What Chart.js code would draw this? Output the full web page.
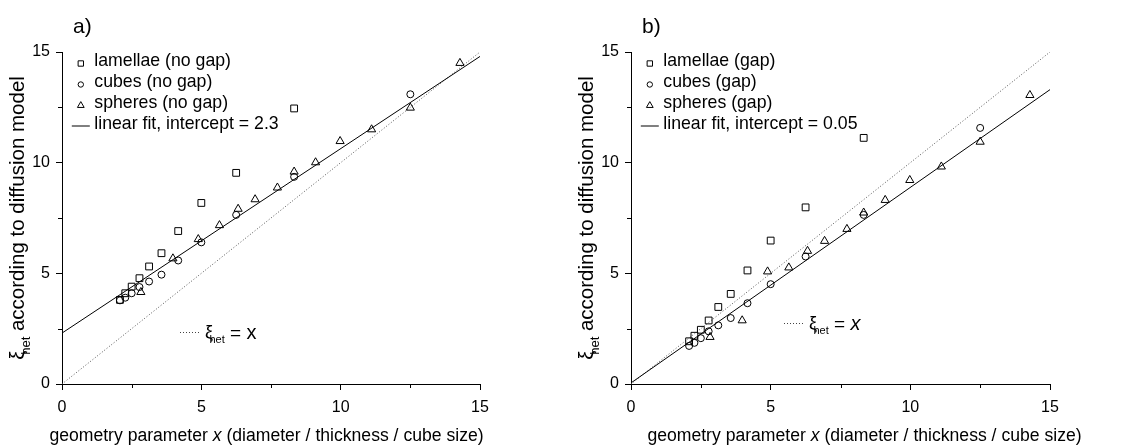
<!DOCTYPE html>
<html>
<head>
<meta charset="utf-8">
<script src="https://cdn.jsdelivr.net/npm/chart.js@4.4.1/dist/chart.umd.min.js"></script>
<style>
  html, body { margin: 0; padding: 0; background: #fff; }
  #wrap { position: relative; width: 1138px; height: 448px; overflow: hidden; }
  .panel { position: absolute; top: 0; width: 569px; height: 448px; }
</style>
</head>
<body>
<div id="wrap">
  <div class="panel" style="left:0"><canvas id="chartA" width="569" height="448"></canvas></div>
  <div class="panel" style="left:569px"><canvas id="chartB" width="569" height="448"></canvas></div>
</div>
<script>
// geometry parameter x of each sample family
const xLamellae = [2.08, 2.27, 2.5, 2.78, 3.125, 3.57, 4.17, 5.0, 6.25, 8.33];
const xCubes    = [2.08, 2.27, 2.5, 2.78, 3.125, 3.57, 4.17, 5.0, 6.25, 8.33, 12.5];
const xSpheres  = [2.83, 3.98, 4.89, 5.65, 6.32, 6.93, 7.73, 8.33, 9.10, 9.98, 11.11, 12.5, 14.28];

// xi_het from the diffusion model, panel a (no gap)
const lamellaeNoGap = [3.80, 4.10, 4.40, 4.78, 5.31, 5.91, 6.91, 8.18, 9.54, 12.45];
const cubesNoGap    = [3.78, 3.90, 4.10, 4.38, 4.63, 4.94, 5.58, 6.40, 7.64, 9.36, 13.09];
const spheresNoGap  = [4.15, 5.67, 6.54, 7.17, 7.91, 8.34, 8.87, 9.59, 10.01, 10.97, 11.50, 12.48, 14.50];

// xi_het from the diffusion model, panel b (gap)
const lamellaeGap = [1.93, 2.18, 2.45, 2.87, 3.48, 4.07, 5.13, 6.48, 7.98, 11.12];
const cubesGap    = [1.72, 1.86, 2.07, 2.38, 2.65, 2.98, 3.65, 4.51, 5.76, 7.64, 11.57];
const spheresGap  = [2.12, 2.87, 5.08, 5.26, 6.01, 6.46, 7.00, 7.74, 8.31, 9.21, 9.82, 10.94, 13.05];

// linear fits (end points at x = 0 and x = 15) and the xi_het = x reference line
const fitX        = [0, 15];
const fitNoGapY   = [2.3, 14.8];
const fitGapY     = [0.05, 13.3];
const identityX   = [0, 15];
const identityY   = [0, 15];

// axis ticks (every 2.5, labelled every 5)
const tickStep  = 2.5;
const labelStep = 5;
const axisMin = 0, axisMax = 15;

const FONT = 'Arial, "Liberation Sans", Helvetica, sans-serif';

function pts(xs, ys) { return xs.map((x, i) => ({ x: x, y: ys[i] })); }

// draws "ξ" with a "het" subscript; returns the x where the next text starts
function drawXiHet(ctx, x, y, size) {
  ctx.font = size + 'px ' + FONT;
  ctx.fillText('\u03BE', x, y);
  const w = ctx.measureText('\u03BE').width;
  const sub = Math.round(size * 0.62);
  ctx.font = sub + 'px ' + FONT;
  ctx.fillText('het', x + w * 0.55, y + size * 0.28);
  return x + w * 0.55 + ctx.measureText('het').width;
}

const decorations = {
  id: 'decorations',
  afterDraw(chart, args, o) {
    const ctx = chart.ctx;
    const a = chart.chartArea;
    const xs = chart.scales.x, ys = chart.scales.y;
    ctx.save();
    ctx.fillStyle = '#000';
    ctx.strokeStyle = '#000';
    ctx.lineWidth = 1;

    // minor ticks (shorter than the labelled ones)
    xs.ticks.forEach(t => {
      if (t.value % labelStep !== 0) {
        const px = Math.round(xs.getPixelForValue(t.value)) + 0.5;
        ctx.beginPath(); ctx.moveTo(px, a.bottom); ctx.lineTo(px, a.bottom + 4); ctx.stroke();
      }
    });
    ys.ticks.forEach(t => {
      if (t.value % labelStep !== 0) {
        const py = Math.round(ys.getPixelForValue(t.value)) + 0.5;
        ctx.beginPath(); ctx.moveTo(a.left, py); ctx.lineTo(a.left - 4, py); ctx.stroke();
      }
    });

    // panel letter
    ctx.textBaseline = 'alphabetic';
    ctx.textAlign = 'left';
    ctx.font = '21px ' + FONT;
    ctx.fillText(o.panel, a.left + 11, 33);

    // legend
    const lx = a.left + 18.8, tx = a.left + 32.3;
    ctx.textBaseline = 'middle';
    o.legend.forEach((item, i) => {
      const y = a.top + 9.5 + 21 * i;
      const ds = chart.data.datasets[item.dataset];
      if (item.line) {
        ctx.beginPath();
        ctx.lineWidth = 1;
        ctx.moveTo(lx - 9, y + 1.5); ctx.lineTo(lx + 9, y + 1.5); ctx.stroke();
      } else {
        ctx.save();
        ctx.fillStyle = 'rgba(0,0,0,0)';
        Chart.helpers.drawPoint(ctx, {
          pointStyle: ds.pointStyle, radius: item.r, rotation: 0, borderWidth: 1
        }, lx, y + 2);
        ctx.restore();
      }
      ctx.font = '17.7px ' + FONT;
      ctx.fillStyle = '#000';
      ctx.fillText(ds.label, tx, y);
    });

    // annotation for the dotted line
    ctx.textBaseline = 'alphabetic';
    const ax = a.left + o.noteDx, ay = a.top + o.noteDy;
    ctx.save();
    ctx.strokeStyle = '#444';
    ctx.setLineDash([1, 2]);
    ctx.beginPath(); ctx.moveTo(ax, ay + 0.5); ctx.lineTo(ax + 21, ay + 0.5); ctx.stroke();
    ctx.restore();
    let nx = drawXiHet(ctx, ax + 25, ay + 6, 18);
    ctx.font = '19px ' + FONT;
    ctx.fillText(' = ', nx, ay + 7);
    nx += ctx.measureText(' = ').width;
    ctx.font = (o.noteItalic ? 'italic ' : '') + '20px ' + FONT;
    ctx.fillText('x', nx, ay + 7);

    // x axis title with italic x
    const tf = '17.6px ';
    const parts = [['geometry parameter ', false], ['x', true], [' (diameter / thickness / cube size)', false]];
    let total = 0;
    parts.forEach(p => { ctx.font = (p[1] ? 'italic ' : '') + tf + FONT; total += ctx.measureText(p[0]).width; });
    let px = (a.left + a.right) / 2 + o.titleShift - total / 2;
    parts.forEach(p => {
      ctx.font = (p[1] ? 'italic ' : '') + tf + FONT;
      ctx.fillText(p[0], px, 441);
      px += ctx.measureText(p[0]).width;
    });

    // y axis title, rotated
    ctx.save();
    const ysz = 20.5;
    const cy = (a.top + a.bottom) / 2;
    ctx.translate(a.left - 38, cy);
    ctx.rotate(-Math.PI / 2);
    ctx.font = ysz + 'px ' + FONT;
    const rest = ' according to diffusion model';
    const wRest = ctx.measureText(rest).width;
    const wXi = ctx.measureText('\u03BE').width * 0.55;
    ctx.font = Math.round(ysz * 0.62) + 'px ' + FONT;
    const wSub = ctx.measureText('het').width;
    const wAll = wXi + wSub + wRest;
    const sx = -wAll / 2;
    const after = drawXiHet(ctx, sx, 0, ysz);
    ctx.font = ysz + 'px ' + FONT;
    ctx.fillText(rest, after, 0);
    ctx.restore();

    ctx.restore();
  }
};

function makeChart(id, lam, cub, sph, fitY, o) {
  const tickScale = () => ({
    type: 'linear',
    min: axisMin,
    max: axisMax,
    ticks: {
      stepSize: tickStep,
      autoSkip: false,
      maxRotation: 0,
      color: '#000',
      font: { family: FONT, size: 16 },
      padding: 6,
      callback: v => (v % labelStep === 0 ? String(v) : '')
    },
    grid: {
      drawOnChartArea: false,
      drawTicks: true,
      tickLength: 6,
      tickWidth: 1,
      tickColor: c => (c.tick && c.tick.value % labelStep === 0 ? '#000' : 'rgba(0,0,0,0)')
    },
    border: { display: true, color: '#000', width: 1 }
  });
  const xScale = tickScale();
  xScale.ticks.padding = 8;
  xScale.afterFit = s => { s.height = 64; };
  const yScale = tickScale();
  yScale.afterFit = s => { s.width = 62; };

  return new Chart(document.getElementById(id), {
    type: 'scatter',
    data: {
      datasets: [
        { label: 'lamellae ' + o.tag, data: pts(xLamellae, lam), pointStyle: 'rect', pointRadius: 4.8,
          borderColor: '#000', backgroundColor: 'rgba(0,0,0,0)', borderWidth: 1, order: 1 },
        { label: 'cubes ' + o.tag, data: pts(xCubes, cub), pointStyle: 'circle', pointRadius: 3.5,
          borderColor: '#000', backgroundColor: 'rgba(0,0,0,0)', borderWidth: 1, order: 1 },
        { label: 'spheres ' + o.tag, data: pts(xSpheres, sph), pointStyle: 'triangle', pointRadius: 4.7,
          borderColor: '#000', backgroundColor: 'rgba(0,0,0,0)', borderWidth: 1, order: 1 },
        { label: 'linear fit, intercept = ' + fitY[0], data: pts(fitX, fitY), showLine: true, pointRadius: 0,
          borderColor: '#000', borderWidth: 1, order: 5 },
        { label: 'identity', data: pts(identityX, identityY), showLine: true, pointRadius: 0,
          borderColor: '#555', borderWidth: 1, borderDash: [1, 2], order: 6 }
      ]
    },
    options: {
      responsive: false,
      animation: false,
      events: [],
      layout: { padding: { left: 0, right: o.padRight, top: 52, bottom: 0 } },
      scales: { x: xScale, y: yScale },
      plugins: {
        legend: { display: false },
        tooltip: { enabled: false },
        decorations: {
          panel: o.panel,
          legend: [
            { dataset: 0, r: 3.8 },
            { dataset: 1, r: 2.7 },
            { dataset: 2, r: 3.9 },
            { dataset: 3, line: true }
          ],
          noteDx: o.noteDx, noteDy: o.noteDy, noteItalic: o.noteItalic,
          titleShift: o.titleShift
        }
      }
    },
    plugins: [decorations]
  });
}

makeChart('chartA', lamellaeNoGap, cubesNoGap, spheresNoGap, fitNoGapY,
  { tag: '(no gap)', panel: 'a)', padRight: 89, noteDx: 118, noteDy: 280, noteItalic: false, titleShift: -4.5 });
makeChart('chartB', lamellaeGap, cubesGap, spheresGap, fitGapY,
  { tag: '(gap)', panel: 'b)', padRight: 88, noteDx: 153, noteDy: 271, noteItalic: true, titleShift: 24 });
</script>
</body>
</html>
